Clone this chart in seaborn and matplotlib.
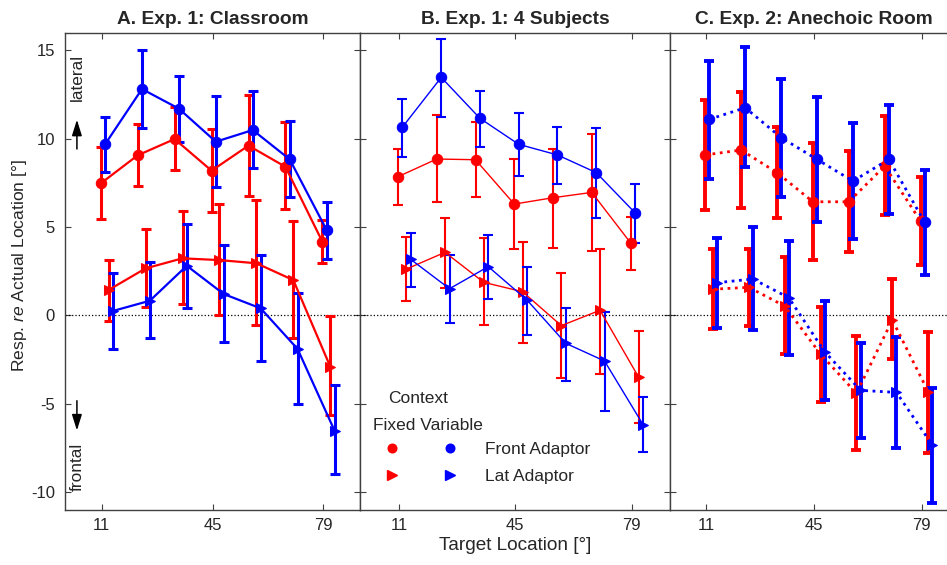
import numpy as np
import pandas as pd

import matplotlib
matplotlib.use("Agg")
import matplotlib.pyplot as plt
import seaborn as sns
from matplotlib.lines import Line2D

### Set seaborn parameters
sns.set_theme(style="ticks")
plt.rcParams['font.family'] = ['Liberation Sans', 'DejaVu Sans']
plt.rcParams['mathtext.fontset'] = 'custom'
plt.rcParams['mathtext.it'] = 'Liberation Sans:italic'
plt.rcParams['mathtext.rm'] = 'Liberation Sans'
plt.rcParams['axes.unicode_minus'] = False

# -- Data (mean, lower and upper end of error bar) -- #
targets = [11.25, 22.5, 33.75, 45, 56.25, 67.5, 78.75]
tick_pos = [11.25, 45, 78.75]
tick_labels = ['11', '45', '79']

panel_titles = ['A. Exp. 1: Classroom', 'B. Exp. 1: 4 Subjects', 'C. Exp. 2: Anechoic Room']

# Panel A
A_ctx_front = [7.46, 9.05, 9.97, 8.18, 9.60, 8.40, 4.16]
A_ctx_front_lo = [5.43, 7.29, 8.22, 5.86, 6.75, 5.99, 2.94]
A_ctx_front_hi = [9.50, 10.80, 11.80, 10.54, 12.46, 10.95, 5.39]
A_fix_front = [9.67, 12.80, 11.69, 9.82, 10.48, 8.82, 4.82]
A_fix_front_lo = [8.09, 10.58, 9.82, 7.24, 8.31, 6.67, 3.20]
A_fix_front_hi = [11.20, 15.00, 13.54, 12.40, 12.69, 11.00, 6.39]
A_ctx_lat = [1.43, 2.65, 3.22, 3.12, 2.94, 1.99, -2.91]
A_ctx_lat_lo = [-0.33, 0.48, 0.62, 0.00, -0.55, -1.31, -5.65]
A_ctx_lat_hi = [3.12, 4.88, 5.90, 6.31, 6.52, 5.31, -0.05]
A_fix_lat = [0.24, 0.82, 2.80, 1.20, 0.39, -1.91, -6.53]
A_fix_lat_lo = [-1.91, -1.31, 0.39, -1.52, -2.59, -5.04, -8.99]
A_fix_lat_hi = [2.37, 2.99, 5.16, 3.97, 3.41, 1.24, -3.95]

# Panel B
B_ctx_front = [7.84, 8.84, 8.80, 6.29, 6.65, 6.95, 4.10]
B_ctx_front_lo = [6.25, 6.41, 6.71, 3.75, 3.80, 3.63, 2.58]
B_ctx_front_hi = [9.42, 11.31, 10.95, 8.86, 9.42, 10.25, 5.57]
B_fix_front = [10.65, 13.46, 11.14, 9.67, 9.07, 8.07, 5.80]
B_fix_front_lo = [8.97, 11.23, 9.54, 7.90, 7.44, 5.52, 4.10]
B_fix_front_hi = [12.24, 15.63, 12.69, 11.46, 10.65, 10.58, 7.44]
B_ctx_lat = [2.61, 3.56, 1.86, 1.33, -0.59, 0.28, -3.52]
B_ctx_lat_lo = [0.82, 1.56, -0.55, -1.55, -3.53, -3.31, -6.08]
B_ctx_lat_hi = [4.44, 5.52, 4.35, 4.16, 2.41, 3.75, -0.88]
B_fix_lat = [3.16, 1.50, 2.75, 0.86, -1.59, -2.59, -6.21]
B_fix_lat_lo = [1.61, -0.42, 0.92, -1.12, -3.70, -5.42, -7.76]
B_fix_lat_hi = [4.67, 3.42, 4.54, 2.75, 0.41, 0.20, -4.61]

# Panel C
C_ctx_front = [9.07, 9.35, 8.07, 6.42, 6.42, 8.44, 5.33]
C_ctx_front_lo = [5.94, 6.05, 5.48, 3.12, 3.56, 5.65, 2.84]
C_ctx_front_hi = [12.18, 12.63, 10.63, 9.73, 9.29, 11.27, 7.84]
C_fix_front = [11.09, 11.74, 10.05, 8.82, 7.59, 8.82, 5.26]
C_fix_front_lo = [7.69, 8.39, 6.71, 5.26, 4.30, 5.71, 2.28]
C_fix_front_hi = [14.39, 15.20, 13.35, 12.33, 10.88, 11.90, 8.22]
C_ctx_lat = [1.47, 1.58, 0.52, -2.20, -4.42, -0.27, -4.33]
C_ctx_lat_lo = [-0.80, -0.63, -2.21, -4.90, -7.63, -2.48, -7.78]
C_ctx_lat_hi = [3.73, 3.75, 3.31, 0.46, -1.18, 2.05, -0.95]
C_fix_lat = [1.84, 2.05, 0.99, -2.07, -4.25, -4.37, -7.35]
C_fix_lat_lo = [-0.74, -0.86, -2.27, -4.82, -6.97, -7.53, -10.65]
C_fix_lat_hi = [4.35, 4.99, 4.20, 0.79, -1.59, -1.25, -4.12]

# -- Build long table -- #
rows = []
series_data = {
    'A': {'ctx_front': (A_ctx_front, A_ctx_front_lo, A_ctx_front_hi),
          'fix_front': (A_fix_front, A_fix_front_lo, A_fix_front_hi),
          'ctx_lat': (A_ctx_lat, A_ctx_lat_lo, A_ctx_lat_hi),
          'fix_lat': (A_fix_lat, A_fix_lat_lo, A_fix_lat_hi)},
    'B': {'ctx_front': (B_ctx_front, B_ctx_front_lo, B_ctx_front_hi),
          'fix_front': (B_fix_front, B_fix_front_lo, B_fix_front_hi),
          'ctx_lat': (B_ctx_lat, B_ctx_lat_lo, B_ctx_lat_hi),
          'fix_lat': (B_fix_lat, B_fix_lat_lo, B_fix_lat_hi)},
    'C': {'ctx_front': (C_ctx_front, C_ctx_front_lo, C_ctx_front_hi),
          'fix_front': (C_fix_front, C_fix_front_lo, C_fix_front_hi),
          'ctx_lat': (C_ctx_lat, C_ctx_lat_lo, C_ctx_lat_hi),
          'fix_lat': (C_fix_lat, C_fix_lat_lo, C_fix_lat_hi)},
}
for panel, d in series_data.items():
    for key, (m, lo, hi) in d.items():
        for t, mm, l, h in zip(targets, m, lo, hi):
            rows.append(dict(panel=panel, series=key, target=t, mean=mm, lo=l, hi=h))
df = pd.DataFrame(rows)

# colour, marker, x-offset (so bars don't overlap)
STYLE = {
    'ctx_front': ('#ff0000', 'o', -0.3),
    'ctx_lat': ('#ff0000', '>', 2.1),
    'fix_front': ('#0000ff', 'o', 1.0),
    'fix_lat': ('#0000ff', '>', 3.4),
}
# line width, errorbar width, linestyle per panel
PANEL_STYLE = {
    'A': (1.6, 2.2, '-'),
    'B': (1.0, 1.5, '-'),
    'C': (2.0, 2.8, ':'),
}

## Generate chart
fig = plt.figure(figsize=(9.47, 5.65), dpi=100)
W, H = 947, 565
y_top, y_bot = 32.5, 509.6
edges = [(64.8, 360.3), (360.3, 670.3), (670.3, 957.4)]
axes = []
for x0, x1 in edges:
    axes.append(fig.add_axes([x0 / W, (H - y_bot) / H, (x1 - x0) / W, (y_bot - y_top) / H]))

spine_col = '#404040'
for ax, panel, title in zip(axes, ['A', 'B', 'C'], panel_titles):
    lw, ew, ls = PANEL_STYLE[panel]
    ax.axhline(0, color='black', linestyle=':', linewidth=0.9, zorder=1)
    for key in ['ctx_front', 'ctx_lat', 'fix_front', 'fix_lat']:
        color, marker, dx = STYLE[key]
        sub = df[(df['panel'] == panel) & (df['series'] == key)]
        x = sub['target'].values + dx
        yv = sub['mean'].values
        ax.errorbar(x, yv, yerr=[yv - sub['lo'].values, sub['hi'].values - yv],
                    fmt='none', ecolor=color, elinewidth=ew, capsize=3.8, capthick=ew, zorder=2)
        sns.lineplot(x=x, y=yv, ax=ax, color=color, marker=marker, markersize=7.5,
                     markeredgecolor=color, markerfacecolor=color, linewidth=lw,
                     linestyle=ls, zorder=3)

    ax.set_xlim(0, 90)
    ax.set_ylim(-11, 16)
    ax.set_xticks(tick_pos, labels=tick_labels)
    ax.set_yticks([-10, -5, 0, 5, 10, 15])
    ax.tick_params(direction='in', top=True, right=True, length=4.5, width=0.8,
                   color=spine_col, labelsize=12, labelcolor='#262626')
    ax.tick_params(axis='y', pad=7)
    ax.tick_params(axis='x', pad=6)
    for s in ax.spines.values():
        s.set_color(spine_col)
        s.set_linewidth(1.0)
    ax.set_title(title, fontsize=13.8, fontweight='bold', pad=6)
    ax.set_xlabel('')
    ax.set_ylabel('')
    if panel != 'A':
        ax.tick_params(labelleft=False)

axes[0].set_ylabel(r'Resp. $\mathit{re}$ Actual Location [°]', fontsize=12.6)
axes[0].yaxis.set_label_coords(-0.12, 0.511)
axes[1].set_xlabel('Target Location [°]', fontsize=13.7, labelpad=3)

# direction hints
ax = axes[0]
arrow_kw = dict(arrowstyle='-|>,head_length=0.8,head_width=0.25', color='black', lw=1.1)
ax.text(0.041, 0.905, 'lateral', transform=ax.transAxes, rotation=90,
        ha='center', va='center', fontsize=12.4)
ax.annotate('', xy=(0.041, 0.823), xytext=(0.041, 0.75), xycoords='axes fraction',
            arrowprops=arrow_kw)
ax.text(0.041, 0.09, 'frontal', transform=ax.transAxes, rotation=90,
        ha='center', va='center', fontsize=12.4)
ax.annotate('', xy=(0.041, 0.16), xytext=(0.041, 0.234), xycoords='axes fraction',
            arrowprops=arrow_kw)

# legend
ax = axes[1]
handles = [
    Line2D([], [], color='#ff0000', marker='o', linestyle='none', markersize=6.2),
    Line2D([], [], color='#ff0000', marker='>', linestyle='none', markersize=6.5),
    Line2D([], [], color='#0000ff', marker='o', linestyle='none', markersize=6.2),
    Line2D([], [], color='#0000ff', marker='>', linestyle='none', markersize=6.5),
]
labels = ['', '', 'Front Adaptor', 'Lat Adaptor']
leg = ax.legend(handles, labels, ncol=2, frameon=False, fontsize=12.5,
                loc='upper left', bbox_to_anchor=(0.0387, 0.157), borderaxespad=0,
                handlelength=1.5, handletextpad=1.3, columnspacing=0.52, labelspacing=0.7)
ax.text(0.187, 0.232, 'Context', transform=ax.transAxes, ha='center', va='center', fontsize=12.5)
ax.text(0.042, 0.177, 'Fixed Variable', transform=ax.transAxes, ha='left', va='center', fontsize=12.5)

fig.savefig('out.png', dpi=100)
plt.close()
